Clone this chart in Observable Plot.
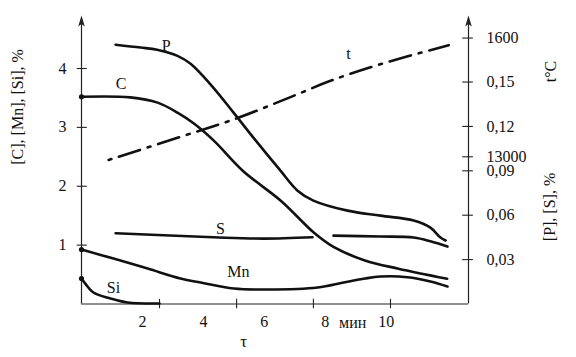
<!DOCTYPE html>
<html><head><meta charset="utf-8">
<script src="https://cdn.jsdelivr.net/npm/d3@7"></script>
<script src="https://cdn.jsdelivr.net/npm/@observablehq/plot@0.6"></script>
<style>html,body{margin:0;padding:0;background:#fff} svg{display:block}</style>
</head><body><div id="chart"></div>
<script>
// ---- data (time τ in minutes) ----
const cT  = [0, 1.6, 2.5, 3.15, 3.7, 4.35, 5.3, 6.55, 7.63, 8.3, 9.3, 10.4, 12.0];
const cV  = [3.52, 3.51, 3.42, 3.25, 3.06, 2.77, 2.26, 1.75, 1.21, 0.96, 0.74, 0.60, 0.43];
const mnT = [0, 1.05, 2.17, 3.25, 3.91, 5.0, 6.1, 7.75, 8.6, 9.3, 9.81, 10.7, 11.45, 12.01];
const mnV = [0.925, 0.772, 0.602, 0.433, 0.365, 0.263, 0.246, 0.280, 0.365, 0.433, 0.466, 0.455, 0.382, 0.297];
const siT = [0, 0.13, 0.39, 0.95, 1.51, 2.56];
const siV = [0.433, 0.343, 0.195, 0.093, 0.025, 0.008];
const pT  = [1.12, 1.94, 2.48, 3.15, 3.58, 4.33, 4.99, 5.64, 6.53, 7.09, 7.61, 8.73, 9.81, 10.90, 11.45, 11.78, 11.95];
const pV  = [0.1752, 0.1733, 0.1718, 0.1677, 0.1623, 0.1461, 0.1293, 0.1124, 0.0901, 0.0766, 0.0699, 0.0631, 0.0597, 0.0564, 0.0516, 0.0449, 0.0429];
const sT  = [1.12, 4.33, 5.97, 7.58, 7.9, 8.27, 9.81, 10.90, 11.45, 12.01];
const sV  = [0.0478, 0.0451, 0.0442, 0.0451, NaN, 0.0462, 0.0456, 0.0449, 0.0424, 0.0388];
const tempT = [0.89, 3.15, 5.12, 6.96, 8.17, 9.81, 12.05];
const tempV = [1292, 1348, 1398, 1454, 1492, 1534, 1582];

const leftTicks = [1, 2, 3, 4];
const xTickLabels = [2, 4, 6, 8, 10];
const xTickMarks = [2.56, 5.09, 7.61, 10.14];
const tempTicks = [1600, 1300];
const tempTickLabels = ["1600", "13000"];
const psTicks = [0.15, 0.12, 0.09, 0.06, 0.03];
const psTickLabels = ["0,15", "0,12", "0,09", "0,06", "0,03"];

const curveLabels = ["P", "C", "t", "S", "Mn", "Si"];
const curveLabelT = [2.78, 1.3, 8.76, 4.56, 5.15, 1.05];
const curveLabelV = [4.39, 3.74, 4.25, 1.28, 0.55, 0.28];

const leftTitle = "[C], [Mn], [Si], %";
const rightTitleT = "t°C";
const rightTitlePS = "[P], [S], %";
const xUnit = "мин";
const xTitle = "τ";

// ---- secondary scales mapped onto the left axis units ----
const tempToLeft = d3.scaleLinear([1300, 1600], [2.5, 4.517]);
const psToLeft = d3.scaleLinear([0, 0.15], [0, 3.77]);

const xMax = 12.7, yTop = 4.9;
const series = (T, V, f = v => v) => T.map((t, i) => ({t, v: f(V[i])}));

const rightVals = [...tempTicks.map(tempToLeft), ...psTicks.map(psToLeft)];
const rightLabs = [...tempTickLabels, ...psTickLabels];
const rightMap = new Map(rightVals.map((v, i) => [v, rightLabs[i]]));

const arrowHead = {draw(ctx) { ctx.moveTo(0, 0); ctx.lineTo(3.3, 11); ctx.lineTo(0, 8.5); ctx.lineTo(-3.3, 11); ctx.closePath(); }};

const ink = "#111", axisInk = "#222";
const lineOpts = {x: "t", y: "v", stroke: ink, strokeWidth: 2.6, curve: "catmull-rom"};

const chart = Plot.plot({
  width: 576, height: 357,
  marginLeft: 81, marginRight: 108, marginTop: 15, marginBottom: 53.5,
  x: {domain: [0, xMax]},
  y: {domain: [0, yTop]},
  style: {fontFamily: "'Liberation Serif', 'Times New Roman', serif", fontSize: "16px", color: ink, background: "#fff"},
  marks: [
    // axis lines
    Plot.ruleX([0, xMax], {x: d => d, y1: 0, y2: yTop - 0.05, stroke: axisInk, strokeWidth: 1.2}),
    Plot.ruleY([0], {y: d => d, x1: 0, x2: xMax, stroke: axisInk, strokeWidth: 1.2}),
    Plot.dot([0, xMax], {x: d => d, y: yTop, symbol: arrowHead, fill: axisInk, stroke: null}),
    // crossing tick marks
    Plot.ruleY(leftTicks, {y: d => d, x1: -0.14, x2: 0.19, stroke: axisInk, strokeWidth: 1.1}),
    Plot.ruleY(rightVals, {y: d => d, x1: xMax - 0.19, x2: xMax + 0.16, stroke: axisInk, strokeWidth: 1.1}),
    Plot.ruleX(xTickMarks, {x: d => d, y1: -0.08, y2: 0.08, stroke: axisInk, strokeWidth: 1.1}),
    // axis labels
    Plot.axisY(leftTicks, {anchor: "left", tickSize: 0, tickPadding: 15, fontSize: 16, label: null, tickFormat: d => String(d)}),
    Plot.axisY(rightVals, {anchor: "right", tickSize: 0, tickPadding: 18, fontSize: 16, label: null, tickFormat: d => rightMap.get(d)}),
    Plot.axisX(xTickLabels, {anchor: "bottom", tickSize: 0, tickPadding: 12, fontSize: 16, label: null, tickFormat: d => String(d)}),
    // curves
    Plot.line(series(cT, cV), lineOpts),
    Plot.line(series(mnT, mnV), lineOpts),
    Plot.line(series(siT, siV), lineOpts),
    Plot.line(series(pT, pV, psToLeft), lineOpts),
    Plot.line(series(sT, sV, v => (isNaN(v) ? NaN : psToLeft(v))), lineOpts),
    Plot.line(series(tempT, tempV, tempToLeft), {...lineOpts, strokeDasharray: "3,8,22,8", strokeWidth: 2.6}),
    Plot.dot([cV[0], mnV[0], siV[0]], {x: 0, y: d => d, r: 2.6, fill: ink, stroke: null}),
    // curve labels
    Plot.text(curveLabels.map((s, i) => ({s, t: curveLabelT[i], v: curveLabelV[i]})), {x: "t", y: "v", text: "s", fontSize: 16, fill: ink}),
    // titles
    Plot.text([leftTitle], {frameAnchor: "left", dx: -64, dy: 5, rotate: -90, fontSize: 16, fill: ink}),
    Plot.text([rightTitleT], {frameAnchor: "right", dx: 82, dy: -99, rotate: -90, fontSize: 16, fill: ink}),
    Plot.text([rightTitlePS], {frameAnchor: "right", dx: 81, dy: 13, rotate: -90, fontSize: 16, fill: ink}),
    Plot.text([xUnit], {x: 8.9, y: 0, dy: 18.5, fontSize: 16, fill: ink}),
    Plot.text([xTitle], {x: 5.32, y: 0, dy: 38, fontSize: 17, fill: ink})
  ]
});
document.getElementById("chart").appendChild(chart);
</script></body></html>
